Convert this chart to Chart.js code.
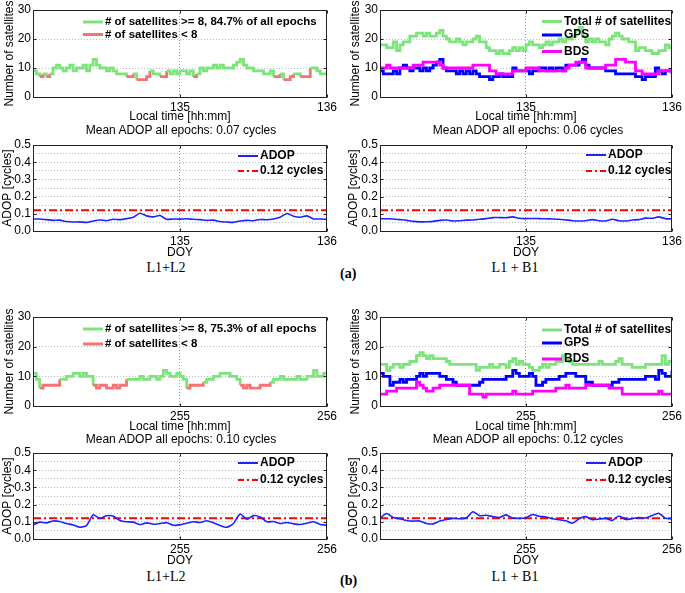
<!DOCTYPE html>
<html>
<head>
<meta charset="utf-8">
<script src="https://cdn.jsdelivr.net/npm/chart.js@4.4.1/dist/chart.umd.min.js"></script>
<style>
  body { margin: 0; background: #fff; }
  #fig { position: relative; width: 685px; height: 593px; font-family: "Liberation Sans", Arial, sans-serif; }
  #fig canvas { position: absolute; }
  .txt { position: absolute; transform: translate(-50%, -50%); white-space: nowrap; font-size: 12px; color: #000; }
  .serif { font-family: "Liberation Serif", "Times New Roman", serif; font-size: 14px; }
  .tag { position: absolute; transform: translateY(-50%); font-family: "Liberation Serif", serif; font-weight: bold; font-size: 14px; }
</style>
</head>
<body>
<div id="fig">
  <canvas id="satA1" width="340" height="124" style="left:0;top:0"></canvas>
  <canvas id="satA2" width="339" height="124" style="left:346px;top:0"></canvas>
  <canvas id="adopA1" width="340" height="125" style="left:0;top:135px"></canvas>
  <canvas id="adopA2" width="339" height="125" style="left:346px;top:135px"></canvas>
  <canvas id="satB1" width="340" height="127" style="left:0;top:307px"></canvas>
  <canvas id="satB2" width="339" height="127" style="left:346px;top:307px"></canvas>
  <canvas id="adopB1" width="340" height="125" style="left:0;top:443px"></canvas>
  <canvas id="adopB2" width="339" height="125" style="left:346px;top:443px"></canvas>

  <div class="txt" style="left:181px;top:130px">Mean ADOP all epochs: 0.07 cycles</div>
  <div class="txt" style="left:528px;top:130px">Mean ADOP all epochs: 0.06 cycles</div>
  <div class="txt" style="left:181px;top:439px">Mean ADOP all epochs: 0.10 cycles</div>
  <div class="txt" style="left:528px;top:439px">Mean ADOP all epochs: 0.12 cycles</div>
  <div class="txt serif" style="left:166px;top:268px">L1+L2</div>
  <div class="txt serif" style="left:515px;top:268px">L1 + B1</div>
  <div class="txt serif" style="left:166px;top:577px">L1+L2</div>
  <div class="txt serif" style="left:515px;top:577px">L1 + B1</div>
  <div class="tag" style="left:340px;top:274px">(a)</div>
  <div class="tag" style="left:340px;top:581px">(b)</div>
</div>

<script>
// day-of-year ranges and labelled ticks
const doyRangeA = [134, 136];
const doyTicksA = [135, 136];
const doyRangeB = [254, 256];
const doyTicksB = [255, 256];

// number of satellites, L1+L2 (GPS only)
const satA_L1L2 = [9,8,7,8,7,8,10,11,10,9, 10,11,9,10,10,11,9,11,13,11, 10,10,9,10,9,8,8,8,7,7,
  8,6,6,6,7,9,8,8,7,7, 9,8,9,8,9,9,8,9,7,8, 10,9,10,10,11,10,11,10,10,10,
  11,12,13,11,10,10,9,9,9,8, 8,9,7,7,8,6,6,7,8,8, 7,7,7,10,10,9,8,8,9];
const satB_L1L2 = [11,9,6,7,7,7,7,7,9,9, 10,10,11,11,10,11,10,10,7,6, 7,7,6,6,7,6,7,7,9,9,
  9,9,10,9,9,10,10,9,10,12, 11,10,10,11,10,9,6,7,7,7, 7,8,9,9,10,10,11,11,11,10,
  10,9,7,6,7,6,6,6,7,7, 7,8,9,9,10,9,9,9,9,10, 9,9,10,10,12,10,10,11,12];

// number of satellites, L1 + B1 (GPS + BDS)
const satA_total = [18,18,17,17,19,16,18,19,19,21, 21,22,22,21,22,21,21,22,23,21, 20,19,19,20,19,18,19,19,20,21,
  19,19,17,16,16,15,16,15,15,16, 17,16,17,16,18,19,18,18,17,18, 19,18,19,19,20,19,20,20,21,23,
  24,21,19,20,19,20,19,19,18,20, 21,22,21,20,20,19,19,16,17,17, 16,16,15,15,16,16,18,17,18];
const satA_gps = [9,8,8,8,9,8,10,11,10,9, 10,10,9,10,9,10,11,12,13,10, 9,9,9,8,9,8,9,8,9,8,
  7,7,7,6,7,7,8,7,7,7, 10,9,9,9,9,8,9,9,10,10, 9,10,9,10,10,9,11,11,11,11,
  12,13,11,10,10,10,10,10,9,9, 9,8,8,8,8,8,8,7,7,6, 7,7,7,10,9,8,9,9,8];
const satA_bds = [10,10,11,10,10,10,10,10,10,10, 11,11,11,12,12,12,12,12,11,10, 10,10,10,10,10,10,10,10,11,11,
  11,11,11,9,9,8,8,8,8,8, 9,9,9,9,10,10,10,10,9,9, 9,9,9,9,9,9,10,11,11,12,
  12,12,10,10,10,10,10,10,11,11, 11,13,13,13,12,12,12,9,9,8, 8,8,8,8,9,9,9,9,9];
const satB_total = [14,14,12,13,14,14,13,14,14,15, 15,17,18,17,16,17,16,16,16,16, 15,14,14,14,14,14,14,14,14,12,
  13,13,13,14,13,13,14,14,13,15, 16,14,15,14,14,13,12,12,13,14, 13,14,14,15,15,17,16,15,14,14,
  14,14,14,14,14,14,15,14,14,14, 14,15,16,14,14,14,13,13,13,13, 14,14,14,14,14,17,14,15,16];
const satB_gps = [11,10,10,7,8,8,9,8,9,9, 9,10,11,10,11,11,11,11,10,10, 9,9,8,7,7,7,7,7,7,7,
  8,9,9,9,9,9,9,9,10,10, 12,11,10,10,10,11,10,7,7,8, 9,9,9,9,10,10,11,11,11,10,
  10,10,8,8,7,7,7,7,7,7, 8,8,9,9,9,9,9,9,9,9, 10,10,10,9,12,11,10,10,12];
const satB_bds = [4,4,5,5,5,6,6,6,6,6, 6,8,7,6,5,5,6,6,7,7, 7,7,7,7,7,7,7,4,4,4,
  4,3,4,4,4,4,4,4,4,4, 5,4,4,4,4,4,5,5,5,5, 5,5,5,6,6,6,7,6,6,6,
  6,6,7,7,7,7,7,7,7,6, 6,6,6,4,4,4,4,4,4,4, 4,4,4,4,5,4,4,4,4];

// ADOP [cycles]
const adopA_L1L2 = [0.070,0.070,0.066,0.062,0.063,0.055,0.052,0.053,0.050,0.058, 0.064,0.060,0.068,0.066,0.072,
  0.080,0.103,0.088,0.082,0.090, 0.068,0.070,0.069,0.071,0.068, 0.066,0.062,0.063,0.055,0.052,
  0.050,0.058,0.062,0.060,0.067, 0.065,0.070,0.080,0.102,0.086, 0.080,0.088,0.070,0.070,0.068];
const adopA_L1B1 = [0.072,0.071,0.070,0.066,0.062,0.056,0.053,0.054,0.056,0.062, 0.064,0.058,0.060,0.063,0.064,
  0.068,0.072,0.078,0.078,0.077, 0.082,0.074,0.072,0.073,0.072, 0.071,0.070,0.068,0.064,0.060,
  0.058,0.060,0.066,0.060,0.058, 0.068,0.060,0.058,0.064,0.066, 0.075,0.074,0.082,0.072,0.070];
const adopB_L1L2 = [0.082,0.098,0.094,0.105,0.102,0.090,0.082,0.068,0.078,0.140, 0.120,0.135,0.134,0.108,0.100,
  0.098,0.084,0.094,0.086,0.090, 0.095,0.080,0.082,0.092,0.100, 0.096,0.106,0.094,0.078,0.068,
  0.090,0.145,0.115,0.136,0.128, 0.100,0.102,0.090,0.096,0.088, 0.084,0.092,0.100,0.084,0.080];
const adopB_L1B1 = [0.122,0.148,0.125,0.118,0.108,0.104,0.105,0.090,0.088,0.104, 0.113,0.120,0.118,0.122,0.158,
  0.136,0.138,0.130,0.125,0.140, 0.122,0.120,0.124,0.142,0.132, 0.128,0.118,0.112,0.106,0.092,
  0.118,0.130,0.112,0.116,0.120, 0.108,0.134,0.114,0.118,0.124, 0.122,0.136,0.150,0.120,0.118];
const adopThreshold = 0.12;

// legend texts
const labelsL1L2 = ["# of satellites >= 8, 84.7% of all epochs", "# of satellites < 8"];
const labelsL1L2b = ["# of satellites >= 8, 75.3% of all epochs", "# of satellites < 8"];
const labelsL1B1 = ["Total # of satellites", "GPS", "BDS"];
const labelsAdop = ["ADOP", "0.12 cycles"];

const GREEN = "rgb(125,228,125)";
const RED = "rgb(245,115,115)";
const BLUE = "#0000ff";
const MAGENTA = "#ff00ff";
const ADOP_BLUE = "#2020ff";
const minSats = 8;

Chart.defaults.font.family = '"Liberation Sans", Arial, sans-serif';
Chart.defaults.font.size = 12;
Chart.defaults.color = "#000";

// evenly spaced epochs over the day range
function epochGrid(range, n) {
  const out = [];
  for (let i = 0; i < n; i++) out.push(range[0] + (range[1] - range[0]) * i / (n - 1));
  return out;
}

function toPoints(range, values) {
  const xs = epochGrid(range, values.length);
  return values.map((v, i) => ({ x: xs[i], y: v }));
}

// box round the plot with small inward tick marks, like the original axes
const frame = {
  id: "frame",
  afterDraw(chart) {
    const { ctx, chartArea: a, scales } = chart;
    const L = Math.round(a.left) + 0.5, T = Math.round(a.top) + 0.5;
    const R = L + Math.round(a.width) - 1, B = T + Math.round(a.height);
    ctx.save();
    ctx.strokeStyle = "#222";
    ctx.lineWidth = 1;
    ctx.strokeRect(L, T, R - L, B - T);
    ctx.beginPath();
    scales.y.ticks.forEach((t) => {
      if (t.label === "") return;
      const y = Math.round(scales.y.getPixelForValue(t.value)) + 0.5;
      ctx.moveTo(L, y); ctx.lineTo(L + 3, y);
      ctx.moveTo(R, y); ctx.lineTo(R - 3, y);
    });
    scales.x.ticks.forEach((t) => {
      const x = Math.round(scales.x.getPixelForValue(t.value)) + 0.5;
      ctx.moveTo(x, B); ctx.lineTo(x, B - 3);
      ctx.moveTo(x, T); ctx.lineTo(x, T + 3);
    });
    ctx.stroke();
    ctx.restore();
  }
};

const insideLegend = {
  id: "insideLegend",
  afterDatasetsDraw(chart, args, opts) {
    if (!opts.items) return;
    const { ctx, chartArea } = chart;
    ctx.save();
    ctx.font = "bold " + opts.size + 'px "Liberation Sans", Arial, sans-serif';
    ctx.textBaseline = "middle";
    opts.items.forEach((item, k) => {
      const x = chartArea.left + opts.x;
      const y = chartArea.top + opts.rows[k];
      ctx.strokeStyle = item.color;
      ctx.lineWidth = item.width;
      ctx.setLineDash(item.dash || []);
      ctx.beginPath();
      ctx.moveTo(x, y);
      ctx.lineTo(x + 20, y);
      ctx.stroke();
      ctx.setLineDash([]);
      ctx.fillStyle = "#000";
      ctx.fillText(item.text, x + 22, y);
    });
    ctx.restore();
  }
};

function doyAxis(range, ticks, title, height) {
  return {
    type: "linear",
    min: range[0],
    max: range[1],
    afterBuildTicks: (s) => { s.ticks = ticks.map((v) => ({ value: v })); },
    afterFit: (s) => { s.height = height; },
    ticks: { padding: 3, maxRotation: 0, autoSkip: false, callback: (v) => String(v) },
    grid: { color: "#999", drawTicks: false },
    border: { display: false, dash: [1, 2] },
    title: { display: true, text: title, padding: 0 }
  };
}

function makeChart(id, datasets, xAxis, yAxis, axisWidth, padRight, legend) {
  yAxis.afterFit = (s) => { s.width = axisWidth; };
  return new Chart(document.getElementById(id), {
    type: "line",
    data: { datasets },
    options: {
      responsive: false,
      animation: false,
      layout: { padding: { top: 10, right: padRight, left: 0, bottom: 0 } },
      elements: { point: { radius: 0 } },
      plugins: { legend: { display: false }, tooltip: { enabled: false }, insideLegend: legend },
      scales: { x: xAxis, y: yAxis }
    },
    plugins: [insideLegend, frame]
  });
}

function satAxis() {
  return {
    min: 0, max: 30,
    ticks: { stepSize: 5, padding: 2 },
    grid: { color: "#bbb", drawTicks: false },
    border: { display: false, dash: [1, 2] },
    title: { display: true, text: "Number of satellites", padding: { top: 2, bottom: 0 } }
  };
}

function adopAxis() {
  return {
    min: 0, max: 0.5,
    ticks: {
      stepSize: 0.05, padding: 2, autoSkip: false,
      callback: (v) => (Math.round(v * 100) % 10 === 0 ? v.toFixed(1) : "")
    },
    grid: { color: "#bbb", drawTicks: false },
    border: { display: false, dash: [1, 2] },
    title: { display: true, text: "ADOP [cycles]", padding: 0 }
  };
}

// single GPS series, red where fewer than 8 satellites
function gpsOnlySet(range, values) {
  return [{
    data: toPoints(range, values),
    stepped: true,
    borderWidth: 2.8,
    borderColor: GREEN,
    segment: { borderColor: (c) => (c.p0.parsed.y < minSats ? RED : GREEN) }
  }];
}

function combinedSets(range, total, gps, bds) {
  return [
    { label: labelsL1B1[2], data: toPoints(range, bds), stepped: true, borderWidth: 2.8, borderColor: MAGENTA, order: 0 },
    { label: labelsL1B1[1], data: toPoints(range, gps), stepped: true, borderWidth: 2.8, borderColor: BLUE, order: 1 },
    { label: labelsL1B1[0], data: toPoints(range, total), stepped: true, borderWidth: 2.8, borderColor: GREEN, order: 2 }
  ];
}

function adopSets(range, values) {
  return [
    { label: labelsAdop[0], data: toPoints(range, values), borderWidth: 1.6, borderColor: ADOP_BLUE, tension: 0.2 },
    { label: labelsAdop[1], data: [{ x: range[0], y: adopThreshold }, { x: range[1], y: adopThreshold }],
      borderWidth: 2, borderColor: "#ff0000", borderDash: [8, 3, 2, 3] }
  ];
}

const satLegend1 = (labels, rows) => ({
  x: 50, rows, size: 11.5,
  items: [{ text: labels[0], color: GREEN, width: 3 }, { text: labels[1], color: RED, width: 3 }]
});
const satLegend2 = (rows) => ({
  x: 162, rows, size: 12,
  items: [{ text: labelsL1B1[0], color: GREEN, width: 3 }, { text: labelsL1B1[1], color: BLUE, width: 3 },
          { text: labelsL1B1[2], color: MAGENTA, width: 3 }]
});
const adopLegend = (x, rows) => ({
  x, rows, size: 12,
  items: [{ text: labelsAdop[0], color: ADOP_BLUE, width: 2 }, { text: labelsAdop[1], color: "#ff0000", width: 2, dash: [6, 3, 2, 3] }]
});

makeChart("satA1", gpsOnlySet(doyRangeA, satA_L1L2), doyAxis(doyRangeA, doyTicksA, "Local time [hh:mm]", 27),
  satAxis(), 33, 12, satLegend1(labelsL1L2, [12, 24.5]));
makeChart("satA2", combinedSets(doyRangeA, satA_total, satA_gps, satA_bds), doyAxis(doyRangeA, doyTicksA, "Local time [hh:mm]", 27),
  satAxis(), 34, 11, satLegend2([11.5, 25, 41.5]));
makeChart("adopA1", adopSets(doyRangeA, adopA_L1L2), doyAxis(doyRangeA, doyTicksA, "DOY", 29),
  adopAxis(), 33, 12, adopLegend(205, [11, 26]));
makeChart("adopA2", adopSets(doyRangeA, adopA_L1B1), doyAxis(doyRangeA, doyTicksA, "DOY", 29),
  adopAxis(), 34, 11, adopLegend(206, [10, 26]));
makeChart("satB1", gpsOnlySet(doyRangeB, satB_L1L2), doyAxis(doyRangeB, doyTicksB, "Local time [hh:mm]", 28),
  satAxis(), 33, 12, satLegend1(labelsL1L2b, [12, 27]));
makeChart("satB2", combinedSets(doyRangeB, satB_total, satB_gps, satB_bds), doyAxis(doyRangeB, doyTicksB, "Local time [hh:mm]", 28),
  satAxis(), 34, 11, satLegend2([13, 26, 42]));
makeChart("adopB1", adopSets(doyRangeB, adopB_L1L2), doyAxis(doyRangeB, doyTicksB, "DOY", 29),
  adopAxis(), 33, 12, adopLegend(205, [10, 27]));
makeChart("adopB2", adopSets(doyRangeB, adopB_L1B1), doyAxis(doyRangeB, doyTicksB, "DOY", 29),
  adopAxis(), 34, 11, adopLegend(206, [10, 27]));
</script>
</body>
</html>
